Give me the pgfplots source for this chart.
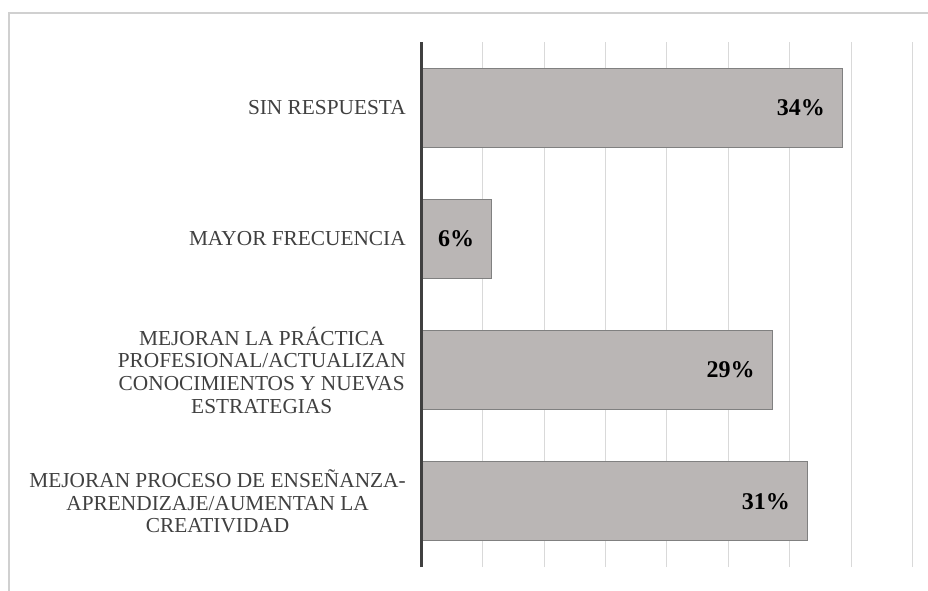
\documentclass[border=0pt]{standalone}
\usepackage{pgfplots}
\pgfplotsset{compat=1.18}
\usepackage{fontspec}
\setmainfont{Liberation Serif}
\definecolor{barfill}{HTML}{BAB6B5}
\definecolor{baredge}{HTML}{808080}
\definecolor{gridc}{HTML}{D9D9D9}
\definecolor{axisc}{HTML}{404040}
\definecolor{framec}{HTML}{D0D0D0}
\definecolor{labc}{HTML}{404040}
\begin{document}
\begin{tikzpicture}
\useasboundingbox (-316.125pt,-17.25pt) rectangle (379.875pt,425.25pt);
\draw[framec, line width=1.1pt] (-309.375pt,-40pt) -- (-309.375pt,415.5pt) -- (420pt,415.5pt);
\begin{axis}[
  at={(0,0)}, anchor=south west,
  scale only axis, width=368.25pt, height=393.75pt,
  xmin=0, xmax=40, ymin=-0.5, ymax=3.5,
  clip=false,
  xbar, bar width=59.25pt, bar shift=0pt,
  xtick={0,5,...,40}, xticklabels={},
  xmajorgrids, major grid style={gridc, line width=0.75pt},
  ytick={0,1,2,3},
  yticklabels={{MEJORAN PROCESO DE ENSEÑANZA-\\APRENDIZAJE/AUMENTAN LA\\CREATIVIDAD},{MEJORAN LA PRÁCTICA\\PROFESIONAL/ACTUALIZAN\\CONOCIMIENTOS Y NUEVAS\\ESTRATEGIAS},{MAYOR FRECUENCIA},{SIN RESPUESTA}},
  major tick length=0pt,
  axis line style={draw=none},
  yticklabel style={align=center, font=\fontsize{16}{17}\selectfont, text=labc, inner sep=0pt, xshift=-11.6pt},
  point meta=explicit symbolic,
  nodes near coords,
  nodes near coords style={anchor=east, xshift=-12.75pt, inner sep=0pt, font=\fontsize{18}{20}\selectfont\bfseries, text=black},
]
\addplot[fill=barfill, draw=baredge, line width=0.75pt] coordinates {
  (31.43,0) [31\%]
  (28.57,1) [29\%]
  (5.71,2) [6\%]
  (34.29,3) [34\%]
};
\draw[axisc, line width=2.25pt] (axis cs:0,-0.5) -- (axis cs:0,3.5);
\end{axis}
\end{tikzpicture}
\end{document}
